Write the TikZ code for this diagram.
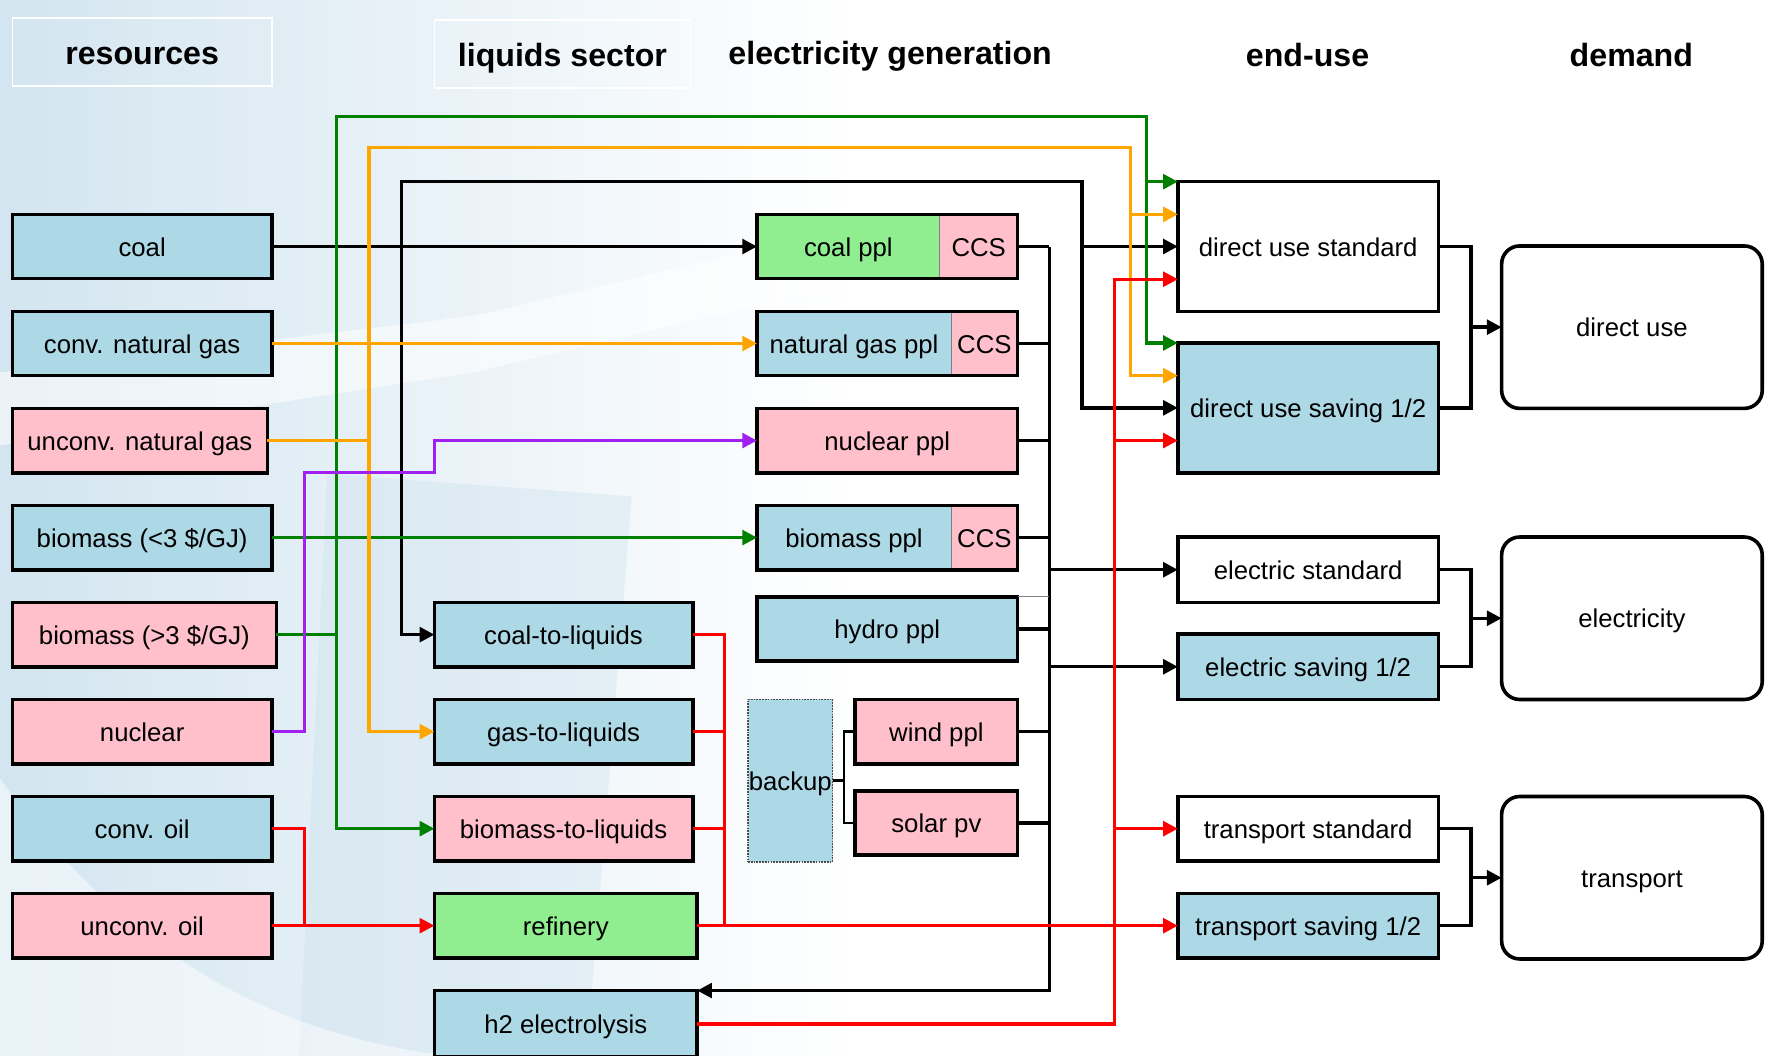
\documentclass[tikz,border=0pt]{standalone}
\usepackage{fontspec}
\setmainfont{Liberation Sans}
\usetikzlibrary{arrows.meta,calc,fit}
\definecolor{lb}{HTML}{ADD8E6}
\definecolor{pk}{HTML}{FFC0CB}
\definecolor{lg}{HTML}{90EE90}
\definecolor{org}{HTML}{FFA500}
\definecolor{grn}{HTML}{008000}
\definecolor{pur}{HTML}{A020F0}
\definecolor{bgb}{HTML}{D3E5F0}
\definecolor{bgd}{HTML}{C9DEEC}
\newcommand\fs{\fontsize{22.8}{27}\selectfont}
\newcommand\hfs{\bfseries\fontsize{28.5}{34}\selectfont}
\newcommand\mybox[7]{%
  \pgfmathsetmacro\bw{#4-#2}\pgfmathsetmacro\bh{#5-#3}%
  \pgfmathsetmacro\bcx{(#2+#4)/2}\pgfmathsetmacro\bcy{(#3+#5)/2}%
  \node[#6,minimum width=\bw pt,minimum height=\bh pt] (#1) at (\bcx,\bcy) {#7};}
\begin{document}
\begin{tikzpicture}[x=1pt,y=-1pt,
  box/.style={draw=black,line width=3.2pt,inner sep=0pt,outer sep=0pt,font=\fs,text height=17pt,text depth=0pt},
  bluebox/.style={box,fill=lb},
  pinkbox/.style={box,fill=pk},
  greenbox/.style={box,fill=lg},
  whitebox/.style={box,fill=white},
  dembox/.style={box,fill=white,rounded corners=16pt},
  part/.style={inner sep=0pt,outer sep=0pt,font=\fs,text height=17pt,text depth=0pt},
  ccsbox/.style={part,fill=pk,draw=gray,line width=1pt},
  frame/.style={draw=black,line width=3.2pt,inner sep=0pt,outer sep=0pt},
  backupbox/.style={part,fill=lb,draw=gray!60!black,line width=1.5pt,densely dotted},
  hdrbox/.style={draw=white,line width=1.5pt,inner sep=0pt,font=\hfs,text height=22pt,text depth=0pt},
  hdr/.style={inner sep=0pt,font=\hfs,anchor=base},
  con/.style={line width=3pt},
  tip/.style={-{Triangle[length=13pt,width=13pt]}},
  kline/.style={con,black},
  gline/.style={con,grn},
  oline/.style={con,org},
  pline/.style={con,pur},
  rline/.style={con,red},
  thinline/.style={line width=2.4pt,black}
]
\useasboundingbox (0,0) rectangle (1568,936);
% background
\fill[white] (0,0) rectangle (1568,936);
\shade[left color=bgb,right color=white] (0,0) rectangle (760,936);
\fill[white,opacity=0.55] (0,330) -- (0,395) -- (420,330) -- (760,250) -- (760,200) -- (420,280) -- cycle;
\fill[bgd,opacity=0.35] (290,420) -- (560,440) -- (520,936) -- (265,936) -- cycle;
\fill[white,opacity=0.5] (0,690) .. controls (120,860) and (260,920) .. (400,936) -- (0,936) -- cycle;

% headers
\mybox{hres}{11}{16}{241}{76}{hdrbox}{resources}
\mybox{hliq}{385}{18}{612}{78}{hdrbox}{liquids sector}
\node[hdr] (helec) at (789,57) {electricity generation};
\node[hdr] (hend) at (1159,59) {end-use};
\node[hdr] (hdem) at (1446,59) {demand};

% resources
\mybox{coal}{11}{190}{241}{247}{bluebox}{coal}
\mybox{cgas}{11}{276}{241}{333}{bluebox}{conv. natural gas}
\mybox{ugas}{11}{362}{237}{419}{pinkbox}{unconv. natural gas}
\mybox{bioa}{11}{448}{241}{505}{bluebox}{biomass (<3 \$/GJ)}
\mybox{biob}{11}{534}{245}{591}{pinkbox}{biomass (>3 \$/GJ)}
\mybox{nuc}{11}{620}{241}{677}{pinkbox}{nuclear}
\mybox{coil}{11}{706}{241}{763}{bluebox}{conv. oil}
\mybox{uoil}{11}{792}{241}{849}{pinkbox}{unconv. oil}

% liquids
\mybox{ctl}{385}{534}{614}{591}{bluebox}{coal-to-liquids}
\mybox{gtl}{385}{620}{614}{677}{bluebox}{gas-to-liquids}
\mybox{btl}{385}{706}{614}{763}{pinkbox}{biomass-to-liquids}
\mybox{ref}{385}{792}{618}{849}{greenbox}{refinery}
\mybox{htwo}{385}{878}{618}{937}{bluebox}{h2 electrolysis}

% electricity generation
\mybox{coalppl}{671}{190}{833}{247}{part,fill=lg}{coal ppl}
\mybox{coalccs}{833}{190}{902}{247}{ccsbox}{CCS}
\node[frame,fit=(coalppl)(coalccs)] (coalframe) {};
\mybox{gasppl}{671}{276}{843}{333}{part,fill=lb}{natural gas ppl}
\mybox{gasccs}{843}{276}{902}{333}{ccsbox}{CCS}
\node[frame,fit=(gasppl)(gasccs)] (gasframe) {};
\mybox{nucppl}{671}{362}{902}{419}{pinkbox}{nuclear ppl}
\mybox{bioppl}{671}{448}{843}{505}{part,fill=lb}{biomass ppl}
\mybox{bioccs}{843}{448}{902}{505}{ccsbox}{CCS}
\node[frame,fit=(bioppl)(bioccs)] (bioframe) {};
\mybox{hydro}{671}{529}{902}{586}{bluebox}{hydro ppl}
\mybox{backup}{663}{620}{738}{764}{backupbox}{backup}
\mybox{wind}{758}{620}{902}{677}{pinkbox}{wind ppl}
\mybox{solar}{758}{701}{902}{758}{pinkbox}{solar pv}

% end-use
\mybox{dus}{1044}{161}{1275}{276}{whitebox}{direct use standard}
\mybox{dusav}{1044}{304}{1275}{419}{bluebox}{direct use saving 1/2}
\mybox{es}{1044}{476}{1275}{534}{whitebox}{electric standard}
\mybox{esav}{1044}{562}{1275}{620}{bluebox}{electric saving 1/2}
\mybox{ts}{1044}{706}{1275}{763}{whitebox}{transport standard}
\mybox{tsav}{1044}{792}{1275}{849}{bluebox}{transport saving 1/2}

% demand
\mybox{ddu}{1331}{218}{1562}{362}{dembox}{direct use}
\mybox{del}{1331}{476}{1562}{620}{dembox}{electricity}
\mybox{dtr}{1331}{706}{1562}{850}{dembox}{transport}

% ---------- connectors ----------
% black: coal
\draw[kline,tip] (coal.east) -- (coalppl.west);
\coordinate (kj) at (356,218.5);
\coordinate (kt) at (959,161);
\draw[kline,tip] (kj) |- (kt) |- (dus.west);
\draw[kline,tip] (kt) |- (dusav.west);
\draw[kline,tip] (kj) |- (ctl.west);

% electricity bus
\coordinate (bus) at (930,218.5);
\draw[kline] (coalccs.east) -- (bus);
\draw[kline,tip] (bus) |- (htwo.north east);
\draw[kline] (gasccs.east) -- (gasccs.east -| bus);
\draw[kline] (nucppl.east) -- (nucppl.east -| bus);
\draw[kline] (bioccs.east) -- (bioccs.east -| bus);
\draw[kline] (hydro.east) -- (hydro.east -| bus);
\draw[line width=1pt,gray] (hydro.north east) -- (hydro.north east -| bus);
\draw[kline] (wind.east) -- (wind.east -| bus);
\draw[kline] (solar.east) -- (solar.east -| bus);
\draw[kline,tip] (es.west -| bus) -- (es.west);
\draw[kline,tip] (esav.west -| bus) -- (esav.west);

% backup
\coordinate (bkj) at (748,692);
\draw[thinline] (backup.east) -- (bkj);
\draw[thinline] (wind.west) -| (bkj) |- (solar.west);

% end-use to demand
\coordinate (m1) at (1304,290);
\draw[kline] (dus.east) -| (m1) |- (dusav.east);
\draw[kline,tip] (m1) -- (ddu.west);
\coordinate (m2) at (1304,548);
\draw[kline] (es.east) -| (m2) |- (esav.east);
\draw[kline,tip] (m2) -- (del.west);
\coordinate (m3) at (1304,778);
\draw[kline] (ts.east) -| (m3) |- (tsav.east);
\draw[kline,tip] (m3) -- (dtr.west);

% green
\draw[gline,tip] (bioa.east) -- (bioppl.west);
\coordinate (gj) at (298,562.5);
\coordinate (gt) at (1016,103);
\draw[gline] (biob.east) -- (gj);
\draw[gline,tip] (gj) |- (btl.west);
\draw[gline,tip] (gj) |- (gt) |- (dus.north west);
\draw[gline,tip] (gt) |- (dusav.north west);

% orange
\draw[oline,tip] (cgas.east) -- (gasppl.west);
\coordinate (oj) at (327,390.5);
\coordinate (ot) at (1002,131);
\draw[oline] (ugas.east) -- (oj);
\draw[oline,tip] (oj) |- (gtl.west);
\draw[oline,tip] (oj) |- (ot) |- ($(dus.north west)+(0,29)$);
\draw[oline,tip] (ot) |- ($(dusav.north west)+(0,29)$);

% purple
\coordinate (p1) at (270,419);
\coordinate (p2) at (385,419);
\draw[pline,tip] (nuc.east) -| (p1) -- (p2) |- (nucppl.west);

% red
\coordinate (rj) at (270,820.5);
\draw[rline] (coil.east) -| (rj);
\draw[rline,tip] (uoil.east) -- (ref.west);
\coordinate (lj) at (642,820.5);
\draw[rline] (ctl.east) -| (lj);
\draw[rline] (gtl.east) -- (gtl.east -| lj);
\draw[rline] (btl.east) -- (btl.east -| lj);
\draw[rline,tip] (ref.east) -- (tsav.west);
\coordinate (rx) at (988,247.5);
\coordinate (dv4) at ($(dusav.north west)+(0,86.5)$);
\draw[rline,tip] (htwo.east) -| (rx) -- ($(dus.north west)+(0,86.5)$);
\draw[rline,tip] (dv4 -| rx) -- (dv4);
\draw[rline,tip] (ts.west -| rx) -- (ts.west);
\end{tikzpicture}
\end{document}
